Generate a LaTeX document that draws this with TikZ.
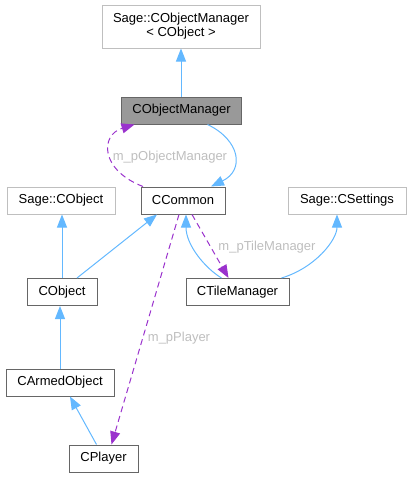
\documentclass[tikz,border=0pt]{standalone}
\usepackage{fontspec}
\setmainfont{Liberation Sans}
\usetikzlibrary{arrows.meta,calc}
\definecolor{edgeblue}{HTML}{63B8FF}
\definecolor{edgepurple}{HTML}{9A32CD}
\definecolor{boxgray}{HTML}{666666}
\definecolor{extgray}{HTML}{BFBFBF}
\definecolor{fillgray}{HTML}{999999}
\definecolor{labelgray}{HTML}{BEBEBE}
\tikzset{
  cls/.style={draw=boxgray, fill=white, line width=1pt, minimum height=27pt, inner sep=0pt, font=\fontsize{13}{15}\selectfont},
  ext/.style={cls, draw=extgray},
  cur/.style={cls, fill=fillgray},
  inh/.style={draw=edgeblue, line width=1pt, -{Triangle[length=13pt,width=10pt]}},
  mem/.style={draw=edgepurple, line width=1pt, dash pattern=on 6pt off 4pt, -{Triangle[length=13pt,width=10pt]}},
  lbl/.style={text=labelgray, font=\fontsize{13}{15}\selectfont, inner sep=0pt}
}
\begin{document}
\begin{tikzpicture}[x=1pt,y=-1pt]
\useasboundingbox (0,0) rectangle (411,477);
\node[ext, minimum width=158pt, minimum height=43pt, align=center] (som) at (181,26.5) {Sage::CObjectManager\\[-1pt]< CObject >};
\node[cur, minimum width=120pt] (om) at (181.5,110.5) {CObjectManager};
\node[cls, minimum width=84pt] (cc) at (183,200.5) {CCommon};
\node[ext, minimum width=108pt] (sco) at (61,200.5) {Sage::CObject};
\node[ext, minimum width=118pt] (sset) at (347,200.5) {Sage::CSettings};
\node[cls, minimum width=70pt] (co) at (62,292) {CObject};
\node[cls, minimum width=103pt] (tm) at (237.5,292) {CTileManager};
\node[cls, minimum width=108pt] (ao) at (60,382.5) {CArmedObject};
\node[cls, minimum width=69pt] (pl) at (103.5,458.5) {CPlayer};

\draw[inh] (om.north -| som.south) -- (som.south);
\draw[inh] ([xshift=26pt]om.south) .. controls (240,140) and (245,170) .. ([xshift=28pt]cc.north);
\draw[mem] ([xshift=-40pt]cc.north) .. controls (100,170) and (100,135) .. ([xshift=-47pt]om.south);
\draw[inh] (co.north) -- (co.north |- sco.south);
\draw[inh] ([xshift=15pt]co.north) -- ([xshift=-26pt]cc.south);
\draw[inh] ([xshift=-16pt]tm.north) .. controls (205,268) and (186,245) .. ([xshift=3pt]cc.south);
\draw[mem] ([xshift=9pt]cc.south) -- ([xshift=-9pt]tm.north);
\draw[inh] ([xshift=44pt]tm.north) .. controls (315,268) and (337,240) .. ([xshift=-10pt]sset.south);
\draw[mem] ([xshift=-4pt]cc.south) -- ([xshift=8pt]pl.north);
\draw[inh] ([xshift=-7pt]pl.north) -- ([xshift=10pt]ao.south);
\draw[inh] (ao.north) -- (ao.north |- co.south);

\node[lbl] (l1) at (170,157) {m\_pObjectManager};
\node[lbl] (l2) at (267,247) {m\_pTileManager};
\node[lbl] (l3) at (179,338) {m\_pPlayer};
\end{tikzpicture}
\end{document}
